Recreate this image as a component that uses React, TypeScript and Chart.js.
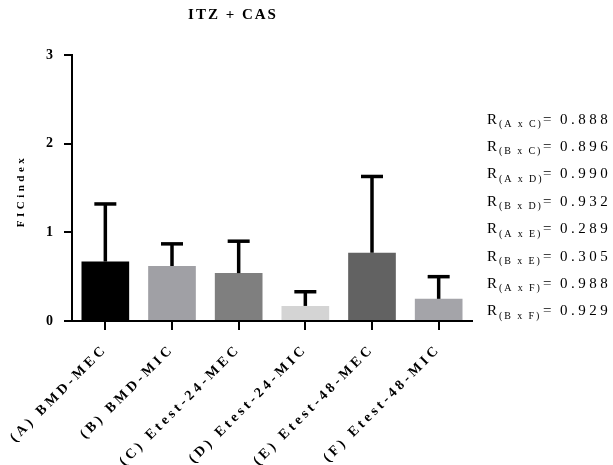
import React, { useEffect, useRef } from 'react';
import { Chart, registerables } from 'chart.js';

Chart.register(...registerables);

// ---- data ----
const categories = [
  '(A) BMD-MEC',
  '(B) BMD-MIC',
  '(C) Etest-24-MEC',
  '(D) Etest-24-MIC',
  '(E) Etest-48-MEC',
  '(F) Etest-48-MIC',
];
const means = [0.67, 0.62, 0.54, 0.17, 0.77, 0.25];
const sds = [0.65, 0.25, 0.36, 0.16, 0.86, 0.25];
const barColors = ['#000000', '#a0a0a5', '#7f7f7f', '#d4d4d4', '#626262', '#a4a4a9'];
const yTickValues = [0, 1, 2, 3];
const corrPairs = ['(A x C)', '(B x C)', '(A x D)', '(B x D)', '(A x E)', '(B x E)', '(A x F)', '(B x F)'];
const corrValues = ['0.888', '0.896', '0.990', '0.932', '0.289', '0.305', '0.988', '0.929'];
const titleText = 'ITZ + CAS';
const yTitleText = 'FICindex';

const SERIF = '"Liberation Serif", "Times New Roman", serif';
const LABEL_SPACING = 3.5;

const errorBarPlugin = {
  id: 'errorBars',
  afterDatasetsDraw(chart: any) {
    const ctx = chart.ctx;
    const meta = chart.getDatasetMeta(0);
    const yScale = chart.scales.y;
    ctx.save();
    ctx.strokeStyle = '#000';
    ctx.lineWidth = 3.5;
    ctx.lineCap = 'butt';
    meta.data.forEach((bar: any, i: number) => {
      const top = yScale.getPixelForValue(means[i] + sds[i]);
      const x = bar.x;
      ctx.beginPath();
      ctx.moveTo(x, bar.y);
      ctx.lineTo(x, top);
      ctx.stroke();
      ctx.beginPath();
      ctx.moveTo(x - 11, top);
      ctx.lineTo(x + 11, top);
      ctx.stroke();
    });
    ctx.restore();
  },
};

const textPlugin = {
  id: 'texts',
  beforeLayout(chart: any) {
    (chart.ctx as any).letterSpacing = LABEL_SPACING + 'px';
  },
  beforeDraw(chart: any) {
    (chart.ctx as any).letterSpacing = LABEL_SPACING + 'px';
  },
  afterDraw(chart: any) {
    const ctx = chart.ctx as any;
    ctx.save();
    ctx.fillStyle = '#000';

    // title
    ctx.letterSpacing = '2px';
    ctx.font = `bold 15px ${SERIF}`;
    ctx.textAlign = 'center';
    ctx.textBaseline = 'middle';
    ctx.fillText(titleText, 233, 15);

    // y axis title
    ctx.save();
    ctx.translate(21, 191);
    ctx.rotate(-Math.PI / 2);
    ctx.letterSpacing = '3.5px';
    ctx.font = `bold 11px ${SERIF}`;
    ctx.textAlign = 'center';
    ctx.textBaseline = 'middle';
    ctx.fillText(yTitleText, 0, 0);
    ctx.restore();

    // correlation annotations
    ctx.textAlign = 'left';
    ctx.textBaseline = 'alphabetic';
    const x0 = 487;
    const base0 = 123.5;
    const step = 27.4;
    corrPairs.forEach((pair, i) => {
      const by = base0 + i * step;
      ctx.letterSpacing = '0px';
      ctx.font = `15px ${SERIF}`;
      ctx.fillText('R', x0, by);
      ctx.letterSpacing = '1.9px';
      ctx.font = `10px ${SERIF}`;
      ctx.fillText(pair, x0 + 12, by + 3.5);
      ctx.letterSpacing = '0px';
      ctx.font = `15px ${SERIF}`;
      ctx.fillText('=', x0 + 56, by);
      ctx.letterSpacing = '3.5px';
      ctx.fillText(corrValues[i], x0 + 73, by);
    });
    ctx.restore();
  },
};

export default function App() {
  const canvasRef = useRef<HTMLCanvasElement | null>(null);

  useEffect(() => {
    const canvas = canvasRef.current;
    if (!canvas) return;
    const chart = new Chart(canvas, {
      type: 'bar',
      data: {
        labels: categories,
        datasets: [
          {
            data: means,
            backgroundColor: barColors,
            borderWidth: 0,
            barPercentage: 0.715,
            categoryPercentage: 1,
          },
        ],
      },
      options: {
        animation: false,
        responsive: false,
        devicePixelRatio: 1,
        layout: { padding: { left: 0, right: 141, top: 55, bottom: 0 } },
        plugins: {
          legend: { display: false },
          title: { display: false },
          tooltip: { enabled: false },
        },
        scales: {
          x: {
            grid: {
              display: true,
              drawOnChartArea: false,
              drawTicks: true,
              tickLength: 9,
              lineWidth: 2,
              color: '#000',
              offset: false,
            },
            border: { display: true, color: '#000', width: 2, z: 1 } as any,
            ticks: {
              color: '#000',
              font: { family: SERIF, size: 14, weight: 'bold' },
              minRotation: 45,
              maxRotation: 45,
              padding: 11,
              autoSkip: false,
            },
            afterFit(scale: any) {
              scale.height = 144;
              scale.paddingLeft = 0;
              scale.paddingRight = 0;
              scale.paddingTop = 0;
              scale.paddingBottom = 0;
            },
          },
          y: {
            min: 0,
            max: 3,
            afterBuildTicks(scale: any) {
              scale.ticks = yTickValues.map((v) => ({ value: v }));
            },
            grid: {
              display: true,
              drawOnChartArea: false,
              drawTicks: true,
              tickLength: 8,
              lineWidth: 2,
              color: '#000',
            },
            border: { display: true, color: '#000', width: 2 },
            ticks: {
              color: '#000',
              font: { family: SERIF, size: 14, weight: 'bold' },
              padding: 7.5,
            },
            afterFit(scale: any) {
              scale.width = 72;
              scale.paddingTop = 0;
              scale.paddingBottom = 0;
            },
          },
        },
      },
      plugins: [errorBarPlugin, textPlugin],
    });
    return () => chart.destroy();
  }, []);

  return (
    <div style={{ position: 'fixed', left: 0, top: 0, width: 613, height: 465, background: '#fff' }}>
      <canvas ref={canvasRef} width={613} height={465} style={{ width: 613, height: 465, display: 'block' }} />
    </div>
  );
}
